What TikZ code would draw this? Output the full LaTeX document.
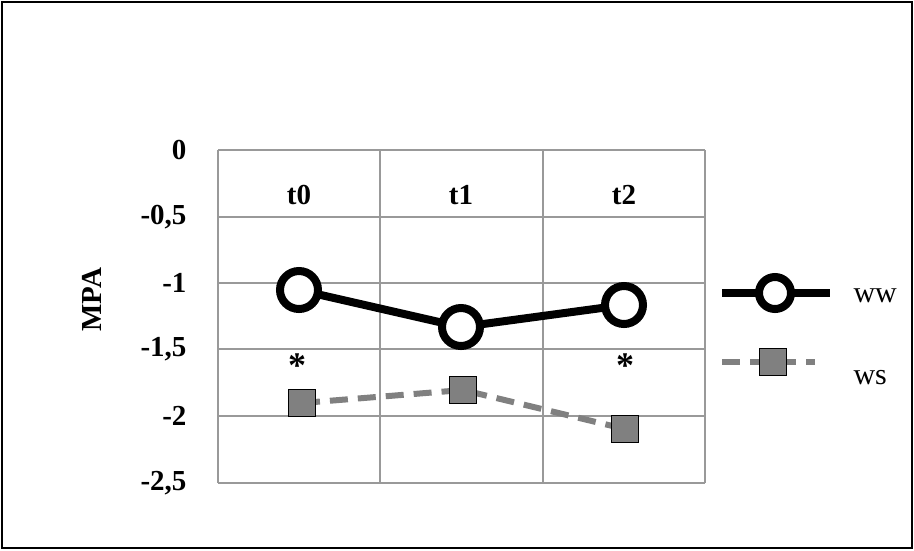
\documentclass[tikz,border=0pt]{standalone}
\usepackage{fontspec}
\setmainfont{Liberation Serif}
\begin{document}
\begin{tikzpicture}[x=1pt,y=-1pt,
  grid/.style={draw=gray!80,line width=1.5pt},
  lab/.style={font=\fontsize{29}{30}\selectfont\bfseries},
  wwline/.style={line width=8pt,black},
  wsline/.style={line width=6pt,gray,dash pattern=on 18pt off 10pt},
  wwmark/.style={circle,draw=black,line width=8pt,fill=white,minimum size=38pt,inner sep=0pt},
  wsmark/.style={rectangle,draw=black,line width=1.2pt,fill=gray,minimum size=27pt,inner sep=0pt},
  leg/.style={font=\fontsize{30}{30}\selectfont,anchor=west}]
\useasboundingbox (0,0) rectangle (914,550);
\draw[line width=1.5pt] (2,2) rectangle (912,548);
\foreach \y in {150,217,283,349,416,483} \draw[grid] (218,\y) -- (705,\y);
\foreach \x in {218,380,543,705} \draw[grid] (\x,150) -- (\x,483);
\foreach \v/\y in {0/150,{-0,5}/217,-1/283,{-1,5}/349,-2/416,{-2,5}/483} \node[lab,anchor=east] at (190,\y) {\v};
\node[lab,rotate=90] (mpa) at (92,300) {MPA};
\node[lab] (l0) at (299,195) {t0};
\node[lab] (l1) at (461,195) {t1};
\node[lab] (l2) at (624,195) {t2};
\node[font=\fontsize{36}{36}\selectfont\bfseries] (s0) at (297,366) {*};
\node[font=\fontsize{36}{36}\selectfont\bfseries] (s2) at (625,366) {*};
\coordinate (w0) at (299,290); \coordinate (w1) at (461,327); \coordinate (w2) at (624,305);
\coordinate (v0) at (302,403); \coordinate (v1) at (463,390); \coordinate (v2) at (625,429);
\draw[wsline] (v0) -- (v1) -- (v2);
\draw[wwline] (w0) -- (w1) -- (w2);
\foreach \p in {w0,w1,w2} \node[wwmark] at (\p) {};
\foreach \p in {v0,v1,v2} \node[wsmark] at (\p) {};
\coordinate (a1) at (722,293); \coordinate (a2) at (830,293);
\draw[wwline] (a1) -- (a2);
\node[wwmark,minimum size=32pt] (lw) at (775,293) {};
\node[leg] (tw) at (850,296) {ww};
\coordinate (b1) at (722,362); \coordinate (b2) at (815,362);
\draw[wsline] (b1) -- (b2);
\node[wsmark] (lv) at (773,362) {};
\node[leg] (tv) at (850,378) {ws};
\end{tikzpicture}
\end{document}
